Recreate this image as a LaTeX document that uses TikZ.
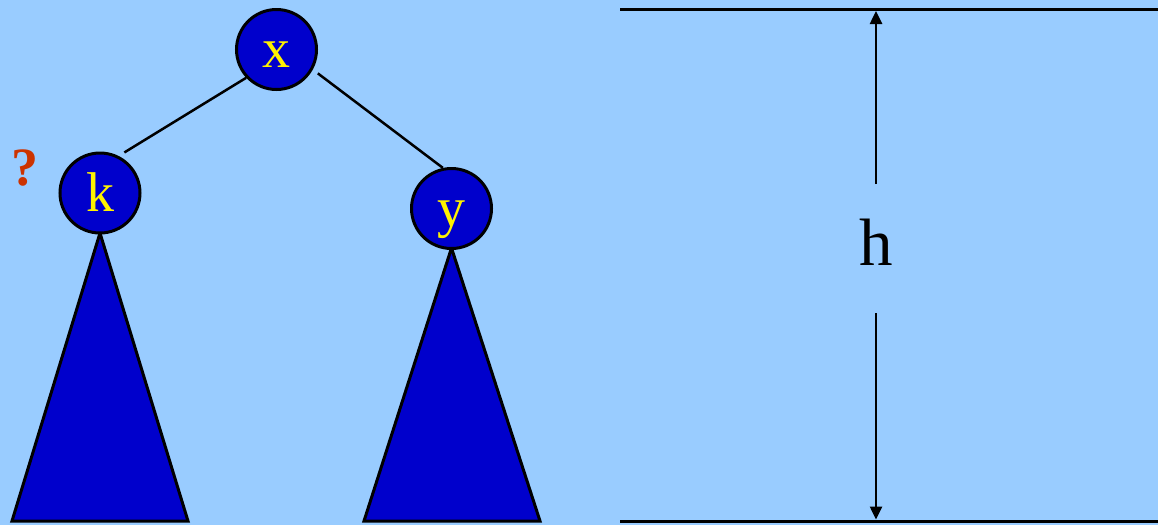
\documentclass[tikz,border=0pt]{standalone}
\usepackage{fontspec}
\setmainfont{Liberation Serif}
\usetikzlibrary{arrows.meta,calc}
\definecolor{bgblue}{HTML}{99CCFF}
\definecolor{nodeblue}{HTML}{0000CC}
\definecolor{qred}{HTML}{CC3300}
\tikzset{
  treenode/.style={circle, draw=black, line width=1.5pt, fill=nodeblue, minimum size=40pt, inner sep=0pt,
    text=yellow, font=\fontsize{28pt}{30pt}\selectfont, text height=20pt, text depth=2pt},
  edgeline/.style={line width=1.25pt},
  subtree/.style={draw=black, line width=1.5pt, fill=nodeblue, line join=miter},
  hline/.style={line width=1.5pt},
  harrow/.style={line width=1.25pt, -{Triangle[width=6pt,length=6.5pt]}},
}
\begin{document}
\begin{tikzpicture}[x=0.5pt,y=-0.5pt]
\fill[bgblue] (0,0) rectangle (1158,525);
\useasboundingbox (0,0) rectangle (1158,525);
% subtrees
\coordinate (kL) at (12,521);
\coordinate (kR) at (188,521);
\coordinate (yL) at (364,521);
\coordinate (yR) at (540,521);
\coordinate (kA) at (100,233);
\coordinate (yA) at (451.5,248);
\filldraw[subtree] (kA) -- (kR) -- (kL) -- cycle;
\filldraw[subtree] (yA) -- (yR) -- (yL) -- cycle;
% nodes
\node[treenode] (x) at (276.5,49.5) {x};
\node[treenode] (k) at (100,193) {k};
\node[treenode] (y) at (451.5,208.5) {y};
\draw[edgeline] (x.223) -- ($(k.center)!1.14!(k.59)$);
\draw[edgeline] ($(x.center)!1.15!(x.-30)$) -- (y.102);
\node[text=qred, font=\bfseries\fontsize{27pt}{29pt}\selectfont, anchor=base] (q) at (25,185) {?};
% height
\coordinate (tl) at (620,9.5);
\coordinate (tr) at (1158,9.5);
\coordinate (bl) at (620,521);
\coordinate (br) at (1158,521);
\draw[hline] (tl) -- (tr);
\draw[hline] (bl) -- (br);
\node[anchor=base, font=\fontsize{33.5pt}{36pt}\selectfont, inner sep=0pt] (h) at (876,265) {h};
\coordinate (hU) at (876,184);
\coordinate (hD) at (876,313);
\coordinate (hT) at (876,11);
\coordinate (hB) at (876,519.5);
\draw[harrow] (hU) -- (hT);
\draw[harrow] (hD) -- (hB);
\end{tikzpicture}
\end{document}
